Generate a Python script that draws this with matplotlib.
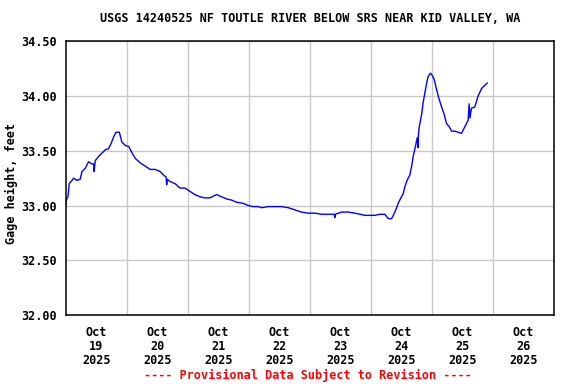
import matplotlib
matplotlib.use("Agg")
import matplotlib.pyplot as plt
import pandas as pd

# gage height readings, hours after Oct 19 2025 00:00
start = pd.Timestamp("2025-10-19 00:00")
hours = [0.0, 0.4, 0.9, 1.4, 2.5, 3.1, 4.4, 5.7, 6.4, 7.7, 9.0, 10.3, 11.0, 11.2, 11.6,
         13.0, 14.3, 15.6, 16.9, 17.9, 18.9, 19.8, 21.1, 22.1, 23.4, 24.8, 26.1, 27.4,
         29.3, 31.3, 33.2, 35.2, 37.2, 38.4, 39.5, 39.7, 40.0, 41.0, 43.0, 44.9, 46.9,
         48.8, 50.8, 52.8, 54.7, 56.7, 59.3, 61.3, 63.3, 65.2, 67.2, 69.8, 71.8, 73.7,
         75.7, 77.0, 79.6, 82.3, 84.9, 87.5, 90.1, 92.7, 95.3, 98.0, 100.6, 103.2,
         105.6, 105.8, 106.0, 108.5, 111.1, 113.7, 115.7, 117.6, 119.6, 121.5, 123.5,
         125.5, 126.8, 128.1, 129.0, 130.1, 130.7, 132.0, 132.7, 133.3, 134.2, 135.3,
         136.0, 136.6, 137.3, 138.2, 138.5, 138.7, 139.0, 139.9, 140.5, 141.2, 141.9,
         142.5, 143.4, 144.1, 144.9, 145.8, 146.7, 147.8, 148.7, 149.7, 150.8, 151.7,
         153.0, 154.3, 155.6, 156.9, 158.2, 158.6, 158.9, 159.5, 160.8, 162.1, 163.5,
         164.8, 165.7]
gage_ft = [33.00, 33.06, 33.08, 33.20, 33.23, 33.25, 33.23, 33.24, 33.31, 33.34, 33.40,
           33.38, 33.38, 33.31, 33.41, 33.45, 33.48, 33.51, 33.52, 33.57, 33.63, 33.67,
           33.67, 33.58, 33.55, 33.54, 33.48, 33.43, 33.39, 33.36, 33.33, 33.33, 33.31,
           33.28, 33.26, 33.19, 33.24, 33.22, 33.20, 33.16, 33.16, 33.13, 33.10, 33.08,
           33.07, 33.07, 33.10, 33.08, 33.06, 33.05, 33.03, 33.02, 33.00, 32.99, 32.99,
           32.98, 32.99, 32.99, 32.99, 32.98, 32.96, 32.94, 32.93, 32.93, 32.92, 32.92,
           32.92, 32.89, 32.92, 32.94, 32.94, 32.93, 32.92, 32.91, 32.91, 32.91, 32.92,
           32.92, 32.88, 32.88, 32.92, 32.98, 33.02, 33.08, 33.11, 33.17, 33.23, 33.28,
           33.36, 33.45, 33.52, 33.62, 33.53, 33.66, 33.72, 33.83, 33.94, 34.03, 34.12,
           34.18, 34.21, 34.19, 34.15, 34.06, 33.98, 33.90, 33.84, 33.75, 33.72, 33.68,
           33.68, 33.67, 33.66, 33.72, 33.78, 33.93, 33.80, 33.89, 33.90, 34.00, 34.07,
           34.10, 34.12]

day_labels = ["Oct\n19\n2025", "Oct\n20\n2025", "Oct\n21\n2025", "Oct\n22\n2025",
              "Oct\n23\n2025", "Oct\n24\n2025", "Oct\n25\n2025", "Oct\n26\n2025"]
y_ticks = [32.0, 32.5, 33.0, 33.5, 34.0, 34.5]

plt.rcParams["font.family"] = ["DejaVu Sans Mono"]
plt.rcParams["font.weight"] = "bold"
fs = 8.5

times = start + pd.to_timedelta(hours, unit="h")

fig = plt.figure(figsize=(5.76, 3.84), dpi=100)
ax = fig.add_axes([0.114, 0.180, 0.848, 0.712])

ax.plot(times, gage_ft, color="#0000ff", linewidth=1.0)

ax.set_xlim(start, start + pd.Timedelta(days=8))
ax.set_ylim(32.0, 34.5)

# labels sit at noon, grid lines at midnight
noon = [start + pd.Timedelta(hours=12 + 24 * i) for i in range(8)]
midnight = [start + pd.Timedelta(days=i) for i in range(1, 8)]
ax.set_xticks(noon)
ax.set_xticklabels(day_labels, fontsize=fs, fontweight="bold")
ax.set_xticks(midnight, minor=True)
for lbl in ax.get_xticklabels():
    lbl.set_linespacing(1.1)

ax.set_yticks(y_ticks)
ax.set_yticklabels(["%.2f" % v for v in y_ticks], fontsize=fs, fontweight="bold")

ax.tick_params(axis="both", which="both", length=0)
ax.tick_params(axis="x", pad=8)
ax.tick_params(axis="y", pad=6)

ax.grid(False)
ax.grid(True, axis="x", which="minor", color="#c8c8c8", linewidth=1.0)
ax.grid(True, axis="y", which="major", color="#c8c8c8", linewidth=1.0)
ax.set_axisbelow(True)

for sp in ax.spines.values():
    sp.set_linewidth(1.1)
    sp.set_color("black")

fig.text(310 / 576, 1 - 19 / 384, "USGS 14240525 NF TOUTLE RIVER BELOW SRS NEAR KID VALLEY, WA",
         ha="center", va="center", fontsize=fs, fontweight="bold")
fig.text(11 / 576, 1 - 183 / 384, "Gage height, feet", rotation=90,
         ha="center", va="center", fontsize=fs, fontweight="bold")
fig.text(308 / 576, 1 - 375 / 384, "---- Provisional Data Subject to Revision ----",
         ha="center", va="center", fontsize=fs, fontweight="bold", color="red")

fig.savefig("out.png", dpi=100)
